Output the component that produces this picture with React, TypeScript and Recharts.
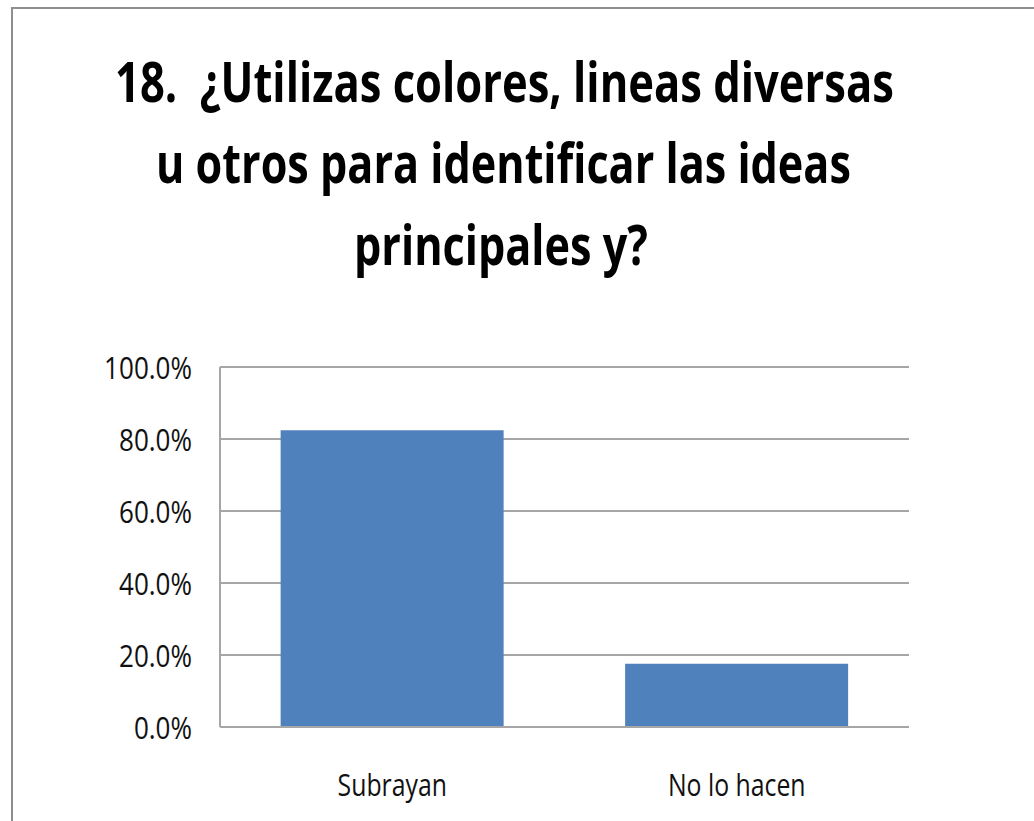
import React, { useLayoutEffect, useRef, useState } from "react";
import { Bar, BarChart, CartesianGrid, XAxis, YAxis } from "recharts";

// Datos (porcentaje)
const categories = ["Subrayan", "No lo hacen"];
const percentages = [82.4, 17.6];
const yTicks = [0, 20, 40, 60, 80, 100];
const titleLines = [
  "18.\u00a0 ¿Utilizas colores, lineas diversas",
  "u otros para identificar las ideas",
  "principales y?",
];

const data = categories.map((name, i) => ({ name, value: percentages[i] }));

const FONT = "'Open Sans', 'Noto Sans', sans-serif";
const BLUE = "#4F81BD";
const GRID = "#a6a6a6";

// posiciones de las líneas del título: [x izquierda, ancho, línea base]
const titleLayout = [
  [115, 779, 102],
  [156, 695, 183],
  [354, 294, 265],
];

// línea de título comprimida en horizontal hasta el ancho deseado
function TitleLine({ text, x, width, y }: any) {
  const ref = useRef<SVGTextElement>(null);
  const [sx, setSx] = useState(0.7);
  useLayoutEffect(() => {
    if (ref.current) {
      const w = ref.current.getComputedTextLength();
      if (w > 0) setSx(width / w);
    }
  }, [text, width]);
  return (
    <g transform={`translate(${x},${y}) scale(${sx},1)`}>
      <text
        ref={ref}
        x={0}
        y={0}
        fontFamily={FONT}
        fontWeight={700}
        fontSize={56}
        fill="#000"
      >
        {text}
      </text>
    </g>
  );
}

function YTick(props: any) {
  const { x, y, payload } = props;
  return (
    <g transform={`translate(${x},${y})`}>
      <text
        transform="scale(0.84,1)"
        textAnchor="end"
        dominantBaseline="central"
        fontFamily={FONT}
        fontSize={31}
        fill="#111"
      >
        {`${Number(payload.value).toFixed(1)}%`}
      </text>
    </g>
  );
}

function XTick(props: any) {
  const { x, y, payload } = props;
  return (
    <g transform={`translate(${x},${y})`}>
      <text
        transform="scale(0.8,1)"
        textAnchor="middle"
        y={61}
        fontFamily={FONT}
        fontSize={31}
        fill="#111"
      >
        {payload.value}
      </text>
    </g>
  );
}

export default function App() {
  return (
    <div
      style={{
        position: "relative",
        width: 1034,
        height: 821,
        overflow: "hidden",
        background: "#fff",
      }}
    >
      <style>{`body{margin:0}`}</style>
      {/* marco del gráfico */}
      <div
        style={{
          position: "absolute",
          left: 11,
          top: 7,
          width: 1100,
          height: 900,
          border: "2px solid #8e8e8e",
          boxSizing: "border-box",
        }}
      />
      <svg
        width={1034}
        height={300}
        style={{ position: "absolute", left: 0, top: 0 }}
      >
        {titleLines.map((line, i) => (
          <TitleLine
            key={i}
            text={line}
            x={titleLayout[i][0]}
            width={titleLayout[i][1]}
            y={titleLayout[i][2]}
          />
        ))}
      </svg>
      <div style={{ position: "absolute", left: 0, top: 0 }}>
        <BarChart
          width={1034}
          height={821}
          data={data}
          margin={{ top: 367, right: 125, bottom: 34, left: 0 }}
          barCategoryGap="17.6%"
        >
          <CartesianGrid
            horizontal
            vertical={false}
            stroke={GRID}
            strokeWidth={2}
          />
          <XAxis
            dataKey="name"
            height={60}
            tick={<XTick />}
            tickLine={false}
            axisLine={{ stroke: GRID, strokeWidth: 2 }}
          />
          <YAxis
            width={220}
            domain={[0, 100]}
            ticks={yTicks}
            interval={0}
            tick={<YTick />}
            tickLine={false}
            tickMargin={22}
            axisLine={{ stroke: GRID, strokeWidth: 2 }}
          />
          <Bar dataKey="value" fill={BLUE} isAnimationActive={false} />
        </BarChart>
      </div>
    </div>
  );
}
